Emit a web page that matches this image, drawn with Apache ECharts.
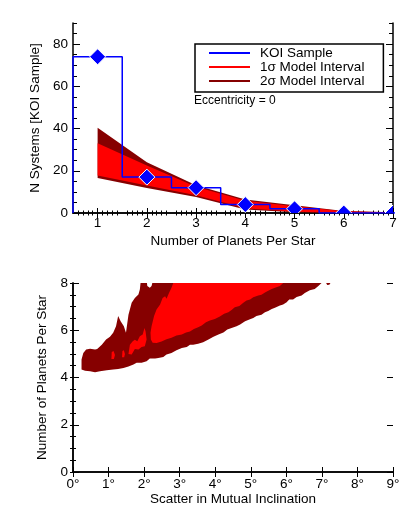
<!DOCTYPE html>
<html>
<head>
<meta charset="utf-8">
<script src="https://cdn.jsdelivr.net/npm/echarts@6/dist/echarts.min.js"></script>
<style>
html,body{margin:0;padding:0;background:#fff;}
#chart{width:415px;height:519px;}
</style>
</head>
<body>
<div id="chart"></div>
<script>
// ---------- Top panel data ----------
const planetCounts = [1, 2, 3, 4, 5, 6, 7];
const koiSystems   = [74, 17, 12, 4, 2, 0, 0];
const twoSigmaLow  = [16.6, 11.9, 7.6, 1.6, 0.3, 0.0, 0.0];
const oneSigmaLow  = [17.8, 13.0, 8.4, 2.2, 0.6, 0.1, 0.0];
const oneSigmaHigh = [33.0, 22.5, 12.4, 5.8, 3.2, 0.8, 0.2];
const twoSigmaHigh = [40.4, 24.0, 13.2, 6.4, 3.7, 1.0, 0.3];
const topXTicks = [1, 2, 3, 4, 5, 6, 7];
const topYTicks = [0, 20, 40, 60, 80];

// ---------- Bottom panel data (contour outlines: [scatter deg, planets per star]) ----------
const contour2SigmaOuter = [[0.24,4.34],[0.24,4.76],[0.29,5.04],[0.37,5.18],[0.48,5.22],[0.62,5.18],[0.68,5.21],[0.81,5.39],[0.93,5.61],[1.04,5.72],[1.13,5.89],[1.21,6.17],[1.27,6.6],[1.34,6.38],[1.43,6.17],[1.49,5.89],[1.56,6.66],[1.65,7.16],[1.74,7.37],[1.84,7.51],[1.88,7.73],[1.90,8.0],[2.08,8.0],[2.09,7.87],[2.16,7.8],[2.21,7.87],[2.23,8.0],[6.99,8.0],[6.90,7.87],[6.80,7.75],[6.66,7.69],[6.52,7.58],[6.43,7.47],[6.29,7.41],[6.19,7.3],[6.08,7.3],[6.01,7.19],[5.91,7.09],[5.82,7.05],[5.68,6.95],[5.59,6.9],[5.49,6.81],[5.40,6.76],[5.30,6.66],[5.16,6.6],[5.07,6.52],[4.96,6.45],[4.84,6.38],[4.70,6.24],[4.60,6.17],[4.46,6.1],[4.34,6.03],[4.23,5.91],[4.09,5.82],[3.95,5.72],[3.81,5.61],[3.66,5.49],[3.52,5.43],[3.38,5.39],[3.29,5.39],[3.20,5.29],[3.06,5.25],[2.91,5.15],[2.77,5.04],[2.63,4.97],[2.54,4.87],[2.40,4.83],[2.31,4.80],[2.16,4.80],[2.07,4.69],[1.93,4.62],[1.79,4.62],[1.70,4.55],[1.56,4.47],[1.42,4.40],[1.27,4.36],[1.13,4.34],[0.95,4.31],[0.76,4.26],[0.62,4.22],[0.48,4.26],[0.34,4.29]];
const contour2SigmaBlip = [[7.12,8.0],[7.15,7.92],[7.21,7.93],[7.24,8.0]];
const contour1SigmaMain = [[2.82,8.0],[5.91,8.0],[5.82,7.87],[5.68,7.8],[5.59,7.75],[5.49,7.67],[5.40,7.6],[5.30,7.5],[5.21,7.47],[5.07,7.4],[4.98,7.3],[4.88,7.26],[4.79,7.16],[4.68,7.03],[4.55,6.97],[4.46,6.86],[4.37,6.76],[4.25,6.7],[4.13,6.58],[3.99,6.48],[3.85,6.41],[3.74,6.34],[3.62,6.2],[3.52,6.13],[3.40,6.05],[3.29,5.95],[3.18,5.9],[3.06,5.82],[2.91,5.78],[2.77,5.68],[2.63,5.62],[2.49,5.52],[2.35,5.46],[2.24,5.47],[2.19,5.61],[2.18,5.89],[2.21,6.17],[2.28,6.6],[2.35,6.88],[2.45,7.09],[2.52,7.37],[2.59,7.44],[2.63,7.33],[2.70,7.58],[2.77,7.8]];
const contour1SigmaLeft = [[1.56,5.0],[1.60,5.39],[1.68,5.53],[1.74,5.6],[1.81,5.53],[1.88,5.75],[1.96,5.82],[2.01,6.1],[2.04,5.96],[2.07,5.61],[2.02,5.32],[1.93,5.29],[1.84,5.18],[1.74,5.21],[1.65,4.97]];
const contour1SigmaSpotA = [[1.08,4.78],[1.09,5.08],[1.14,5.12],[1.18,4.95],[1.15,4.78]];
const contour1SigmaSpotB = [[1.38,4.86],[1.39,5.12],[1.43,5.15],[1.46,5.0],[1.44,4.86]];
const botYTicks = [0, 2, 4, 6, 8];

// ---------- Styles ----------
const FONT = 'Liberation Sans, Arial, Helvetica, sans-serif';
const BLUE = '#0000ff', RED = '#ff0000', DARK = '#860000';

const pair = (xs, ys) => xs.map((x, i) => [x, ys[i]]);
// closed band outline: upper edge forward, lower edge backward
const band = (xs, lo, hi) => pair(xs, hi).concat(pair(xs, lo).reverse());

// histogram outline from bin centres
const stepLine = [];
planetCounts.forEach((x, i) => {
  stepLine.push([x - 0.5, i === 0 ? 0 : koiSystems[i - 1]]);
  stepLine.push([x - 0.5, koiSystems[i]]);
});
stepLine.push([planetCounts[planetCounts.length - 1] + 0.5, koiSystems[koiSystems.length - 1]]);

const band2 = band(planetCounts, twoSigmaLow, twoSigmaHigh);
const band1 = band(planetCounts, oneSigmaLow, oneSigmaHigh);

const polygons = [
  { pts: contour2SigmaOuter, color: DARK },
  { pts: contour2SigmaBlip,  color: DARK },
  { pts: contour1SigmaMain,  color: RED },
  { pts: contour1SigmaLeft,  color: RED },
  { pts: contour1SigmaSpotA, color: RED },
  { pts: contour1SigmaSpotB, color: RED }
];

function polySeries(name, xIdx, yIdx, polys, color) {
  return {
    name: name, type: 'custom', xAxisIndex: xIdx, yAxisIndex: yIdx,
    data: polys.map((p, i) => [i]), clip: true, silent: true,
    encode: { x: -1, y: -1 },
    itemStyle: { color: color },
    renderItem: function (params, api) {
      const poly = polys[params.dataIndex];
      return {
        type: 'polygon',
        shape: { points: poly.pts.map(p => api.coord(p)) },
        style: { fill: poly.color, stroke: null }
      };
    }
  };
}

const lineAxis = { show: true, lineStyle: { color: '#000', width: 1.5 } };
const labelStyle = { color: '#000', fontSize: 13.5, fontFamily: FONT };
const nameStyle = { color: '#000', fontSize: 13.5, fontFamily: FONT };

const chart = echarts.init(document.getElementById('chart'), null, { renderer: 'canvas' });
chart.setOption({
  animation: false,
  backgroundColor: '#fff',
  grid: [
    { left: 73, top: 23, width: 320, height: 190 },
    { left: 73, top: 283, width: 320, height: 189 }
  ],
  xAxis: [
    { gridIndex: 0, type: 'value', position: 'bottom', min: 0.5, max: 7, interval: 0.5,
      axisLine: lineAxis, splitLine: { show: false },
      axisTick: { inside: true, length: 5, customValues: topXTicks, lineStyle: { color: '#000', width: 1 } },
      minorTick: { show: true, splitNumber: 5, length: 2.5, lineStyle: { color: '#000', width: 1 } },
      axisLabel: Object.assign({ margin: 3, customValues: topXTicks }, labelStyle),
      name: 'Number of Planets Per Star', nameLocation: 'middle', nameGap: 21, nameTextStyle: nameStyle },
    { gridIndex: 0, type: 'value', position: 'top', min: 0.5, max: 7, interval: 0.5,
      axisLine: lineAxis, splitLine: { show: false },
      axisTick: { inside: true, length: 5, customValues: topXTicks, lineStyle: { color: '#000', width: 1 } },
      minorTick: { show: true, splitNumber: 5, length: 2.5, lineStyle: { color: '#000', width: 1 } },
      axisLabel: { show: false } },
    { gridIndex: 1, type: 'value', position: 'bottom', min: 0, max: 9, interval: 1,
      axisLine: lineAxis, splitLine: { show: false },
      axisTick: { inside: true, length: 5, lineStyle: { color: '#000', width: 1 } },
      axisLabel: Object.assign({ margin: 5, formatter: v => v + '°' }, labelStyle),
      name: 'Scatter in Mutual Inclination', nameLocation: 'middle', nameGap: 20, nameTextStyle: nameStyle },
    { gridIndex: 1, type: 'value', position: 'top', min: 0, max: 9, interval: 1,
      axisLine: lineAxis, splitLine: { show: false },
      axisTick: { inside: true, length: 5, lineStyle: { color: '#000', width: 1 } },
      axisLabel: { show: false } }
  ],
  yAxis: [
    { gridIndex: 0, type: 'value', position: 'left', min: 0, max: 90, interval: 5,
      axisLine: lineAxis, splitLine: { show: false },
      axisTick: { inside: true, length: 4, lineStyle: { color: '#000', width: 1 } },
      axisLabel: Object.assign({ margin: 5, customValues: topYTicks }, labelStyle),
      name: 'N Systems [KOI Sample]', nameLocation: 'middle', nameGap: 24, nameTextStyle: nameStyle },
    { gridIndex: 0, type: 'value', position: 'right', min: 0, max: 90, interval: 5,
      axisLine: lineAxis, splitLine: { show: false },
      axisTick: { inside: true, length: 4, lineStyle: { color: '#000', width: 1 } },
      axisLabel: { show: false } },
    { gridIndex: 1, type: 'value', position: 'left', min: 0, max: 8, interval: 0.5,
      axisLine: lineAxis, splitLine: { show: false },
      axisTick: { inside: true, length: 3, lineStyle: { color: '#000', width: 1 } },
      axisLabel: Object.assign({ margin: 5, customValues: botYTicks }, labelStyle),
      name: 'Number of Planets Per Star', nameLocation: 'middle', nameGap: 15, nameTextStyle: nameStyle },
    { gridIndex: 1, type: 'value', position: 'right', min: 0, max: 8, interval: 0.5,
      axisLine: lineAxis, splitLine: { show: false },
      axisTick: { inside: true, length: 3, lineStyle: { color: '#000', width: 1 } },
      axisLabel: { show: false } },
    // major tick overlays
    { gridIndex: 0, type: 'value', position: 'left', min: 0, max: 90, interval: 20,
      axisLine: { show: false }, splitLine: { show: false }, axisLabel: { show: false },
      axisTick: { inside: true, length: 7, customValues: topYTicks, lineStyle: { color: '#000', width: 1 } } },
    { gridIndex: 0, type: 'value', position: 'right', min: 0, max: 90, interval: 20,
      axisLine: { show: false }, splitLine: { show: false }, axisLabel: { show: false },
      axisTick: { inside: true, length: 7, customValues: topYTicks, lineStyle: { color: '#000', width: 1 } } },
    { gridIndex: 1, type: 'value', position: 'left', min: 0, max: 8, interval: 2,
      axisLine: { show: false }, splitLine: { show: false }, axisLabel: { show: false },
      axisTick: { inside: true, length: 6, lineStyle: { color: '#000', width: 1 } } },
    { gridIndex: 1, type: 'value', position: 'right', min: 0, max: 8, interval: 2,
      axisLine: { show: false }, splitLine: { show: false }, axisLabel: { show: false },
      axisTick: { inside: true, length: 6, lineStyle: { color: '#000', width: 1 } } }
  ],
  legend: {
    data: [
      { name: 'KOI Sample', itemStyle: { color: BLUE } },
      { name: '1σ Model Interval', itemStyle: { color: RED } },
      { name: '2σ Model Interval', itemStyle: { color: DARK } }
    ],
    orient: 'vertical', left: 195, top: 44, icon: 'rect', itemWidth: 41, itemHeight: 2,
    itemGap: 0, padding: [2, 19, 4, 14], borderColor: '#000', borderWidth: 1.5,
    selectedMode: false,
    textStyle: { color: '#000', fontSize: 13.5, fontFamily: FONT, lineHeight: 14, padding: [0, 0, 0, 5] }
  },
  graphic: [
    { type: 'text', left: 194, top: 95, silent: true,
      style: { text: 'Eccentricity = 0', fill: '#000', font: '12px ' + FONT } }
  ],
  series: [
    polySeries('2σ Model Interval', 0, 0, [{ pts: band2, color: DARK }], DARK),
    polySeries('1σ Model Interval', 0, 0, [{ pts: band1, color: RED }], RED),
    { name: 'KOI Sample', type: 'line', xAxisIndex: 0, yAxisIndex: 0,
      data: stepLine, symbol: 'none', z: 5,
      lineStyle: { color: BLUE, width: 1.5 }, itemStyle: { color: BLUE } },
    { name: 'KOI points', type: 'custom', xAxisIndex: 0, yAxisIndex: 0, z: 6,
      data: pair(planetCounts, koiSystems), clip: true, silent: true,
      itemStyle: { color: BLUE },
      renderItem: function (params, api) {
        const c = api.coord([api.value(0), api.value(1)]);
        const r = 8;
        return {
          type: 'polygon',
          shape: { points: [[c[0], c[1] - r], [c[0] + r, c[1]], [c[0], c[1] + r], [c[0] - r, c[1]]] },
          style: { fill: BLUE, stroke: '#fff', lineWidth: 1 }
        };
      } },
    polySeries('contours', 2, 2, polygons, DARK)
  ]
});
</script>
</body>
</html>
